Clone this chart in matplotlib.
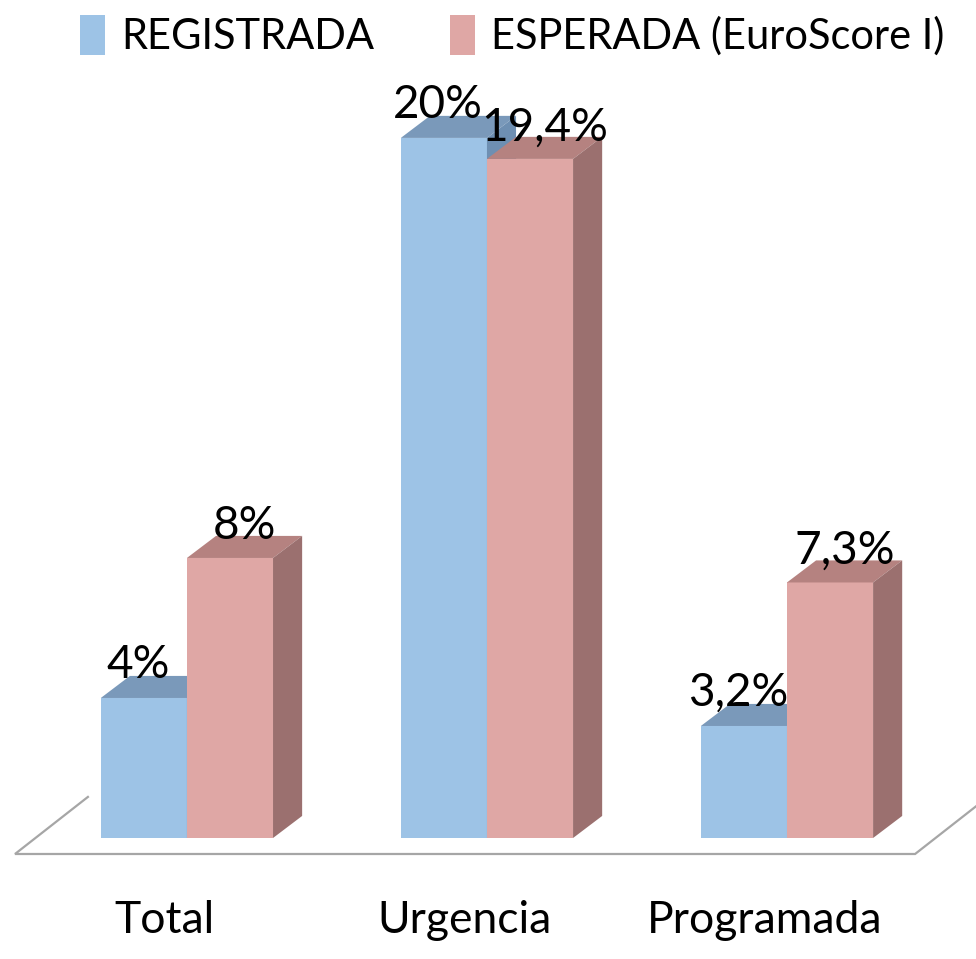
import numpy as np
import matplotlib
matplotlib.use('Agg')
from matplotlib import pyplot as plt
from matplotlib.patches import Polygon, Patch

plt.rcParams['font.family'] = ['Lato', 'DejaVu Sans']

categories = ['Total', 'Urgencia', 'Programada']
registrada = [4, 20, 3.2]
esperada = [8, 19.4, 7.3]
series_names = ['REGISTRADA', 'ESPERADA (EuroScore I)']

# colours: front, top, side
blue = ('#9dc3e6', '#7a99ba', '#6e8fb2')
pink = ('#dfa7a5', '#b58280', '#9b706f')

w = 0.287      # bar width in x units
dx = 0.097     # depth offset (x units)
dy = 0.63      # depth offset (percent units)

fig = plt.figure(figsize=(9.76, 9.59), dpi=100)
ax = fig.add_axes([0, 0, 1, 1])
ax.set_xlim(-0.623, 2.63)
ax.set_ylim(-3.457, 23.94)
ax.axis('off')

x = np.arange(len(categories))


def bar3d(xc, h, cols, z):
    ax.bar(xc, h, width=w, color=cols[0], zorder=z, linewidth=0)
    l, r = xc - w / 2, xc + w / 2
    top = Polygon([(l, h), (r, h), (r + dx, h + dy), (l + dx, h + dy)],
                  closed=True, facecolor=cols[1], edgecolor='none', zorder=z)
    side = Polygon([(r, 0), (r + dx, dy), (r + dx, h + dy), (r, h)],
                   closed=True, facecolor=cols[2], edgecolor='none', zorder=z)
    ax.add_patch(top)
    ax.add_patch(side)


def fmt(v):
    return ('%g' % v).replace('.', ',') + '%'


for i in x:
    bar3d(i - w / 2, registrada[i], blue, 2)
    bar3d(i + w / 2, esperada[i], pink, 3)
    ax.text(i - w / 2 - 0.02, registrada[i] + dy - 0.05, fmt(registrada[i]),
            ha='center', va='baseline', fontsize=33, zorder=5)
    ax.text(i + w / 2 + 0.048, esperada[i] + dy - 0.1, fmt(esperada[i]),
            ha='center', va='baseline', fontsize=33, zorder=5)
    ax.text(i - 0.075, -2.35, categories[i], ha='center', va='center',
            fontsize=32)

# floor outline
fy, fx0, fx1 = -0.457, -0.573, 2.427
fdx, fdy = 0.243, 1.63
ax.plot([fx0 + fdx, fx0, fx1, fx1 + fdx], [fy + fdy, fy, fy, fy + fdy],
        color='#a6a6a6', lw=1.6, zorder=1, solid_joinstyle='miter')

handles = [Patch(facecolor=blue[0]), Patch(facecolor=pink[0])]
fig.legend(handles, series_names, loc='center', bbox_to_anchor=(0.525, 0.963),
           ncol=2, frameon=False, fontsize=30, handlelength=0.6,
           handleheight=1.1, handletextpad=0.4, columnspacing=1.8)

fig.savefig('out.png', dpi=100)
